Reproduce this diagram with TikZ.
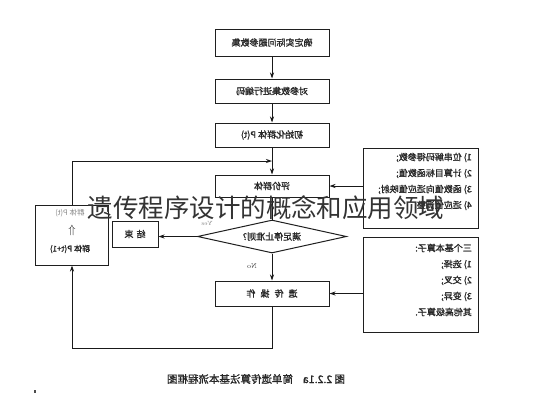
\documentclass[tikz,border=0pt]{standalone}
\usepackage{fontspec}
\newfontfamily\cjk{Noto Sans CJK SC}
\newfontfamily\cjkb[FakeBold=1.3]{Noto Sans CJK SC}
\usetikzlibrary{shapes.geometric,arrows.meta}
\newcommand\mir[1]{\reflectbox{#1}}
\begin{document}
\begin{tikzpicture}[x=1pt,y=-1pt,
  box/.style={draw=black!88, line width=1pt, minimum width=114pt, inner sep=0pt,
    font=\cjkb\fontsize{9}{10}\selectfont, text=black!85},
  sbox/.style={draw=black!88, line width=1pt, inner sep=0pt},
  lbl/.style={inner sep=0pt, font=\cjkb\fontsize{9}{16}\selectfont, text=black!85},
  arr/.style={-{Stealth[length=6pt,width=4pt]}, line width=0.9pt, draw=black!90},
  ln/.style={line width=0.9pt, draw=black!90}]
\useasboundingbox[fill=white] (0,0) rectangle (533,400);

% main column
\node[box, minimum height=27pt] (b1) at (272,42.5) {\mir{确定实际问题参数集}};
\node[box, minimum height=24pt] (b2) at (272,91) {\mir{对参数集进行编码}};
\node[box, minimum height=24pt] (b3) at (272,135) {\mir{初始化群体 P(t)}};
\node[box, minimum height=22pt] (b4) at (272,186) {\mir{评价群体}};
\node[draw=black!88, line width=1pt, diamond, aspect=4.5, minimum width=149pt, minimum height=33pt,
  inner sep=0pt, font=\cjkb\fontsize{9}{10}\selectfont, text=black!85] (d) at (272,236.5) {\mir{满足停止准则?}};
\node[box, minimum height=25pt] (b5) at (272,293.5) {\mir{遗\hspace{5pt}传\hspace{5pt}操\hspace{5pt}作}};

% end box and left box
\node[sbox, minimum width=46pt, minimum height=26pt, font=\cjkb\fontsize{9}{10}\selectfont, text=black!85] (e) at (135,234) {\mir{结\hspace{3pt}束}};
\node[sbox, minimum width=73pt, minimum height=60pt] (lb) at (72,235) {};
\node[inner sep=0pt, font=\cjk\fontsize{7.5}{9}\selectfont, text=black!45] (lt1) at (70,213) {\mir{群体 P(t)}};
\node[inner sep=0pt, font=\fontsize{12}{12}\selectfont, text=black!85] (lt2) at (72,230) {$\Uparrow$};
\node[inner sep=0pt, font=\cjkb\fontsize{8}{9}\selectfont, text=black!85] (lt3) at (70,249) {\mir{群体 P(t+1)}};

% right boxes
\node[sbox, minimum width=115pt, minimum height=80pt] (r1) at (420.5,188) {};
\node[lbl, anchor=north east] (r1t) at (472,149) {\mir{\begin{tabular}{@{}l@{}}1) 位串解码得参数;\\2) 计算目标函数值;\\3) 函数值向适应值映射;\\4) 适应值调整.\end{tabular}}};
\node[sbox, minimum width=115pt, minimum height=95pt] (r2) at (420.5,284.5) {};
\node[lbl, anchor=north east] (r2t) at (472,240) {\mir{\begin{tabular}{@{}l@{}}三个基本算子:\\1) 选择;\\2) 交叉;\\3) 变异;\\其他高级算子.\end{tabular}}};

% labels
\node[inner sep=0pt, font=\fontsize{6}{7}\selectfont, text=black!50] (yes) at (207,223) {\mir{Yes}};
\node[inner sep=0pt, font=\fontsize{7}{8}\selectfont, text=black!80] (no) at (252,266) {\mir{No}};

% connectors
\coordinate (j) at (272,161);
\coordinate (c2) at (72,348);
\draw[arr] (b1) -- (b2);
\draw[arr] (b2) -- (b3);
\draw[arr] (b3) -- (b4);
\draw[ln] (b4) -- (d);
\draw[arr] (lb.north) |- (j);
\draw[arr] (d.west) -- (d.west -| e.east);
\draw[arr] (d.south) -- (b5.north);
\draw[arr] (b5.south) |- (c2) -- (lb.south);
\draw[arr] (r1.west |- b4.east) -- (b4.east);
\draw[arr] (r2.west |- b5.east) -- (b5.east);

% caption
\node[inner sep=0pt, font=\cjkb\fontsize{10.5}{12}\selectfont, text=black!85] (cap) at (256,379) {\mir{图 2.2.1a\hspace{10pt}简单遗传算法基本流程框图}};
\fill[black!70] (34.3,389.5) rectangle (35.8,392.5);

% overlay title
\node[inner sep=0pt, font=\cjk\fontsize{25.5}{27}\selectfont, text=black!80] (wm) at (266,208) {遗传程序设计的概念和应用领域};
\end{tikzpicture}
\end{document}
